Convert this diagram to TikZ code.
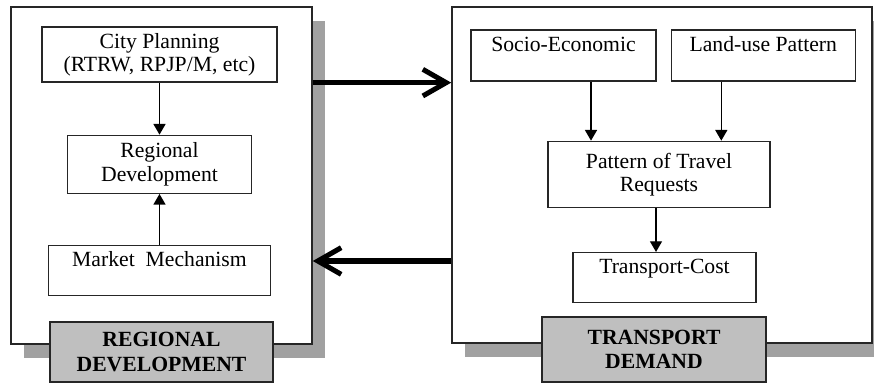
\documentclass[tikz,border=0pt]{standalone}
\usepackage{fontspec}
\setmainfont{Liberation Serif}
\usetikzlibrary{positioning,arrows.meta,shadows}
\tikzset{frame style/.style={
		draw=black!85,
		line width=1.3pt,
		fill=white,
		rectangle,
		inner sep=0pt,
		drop shadow={shadow xshift=0.39cm, shadow yshift=-0.42cm, fill=black!37, opacity=1},
	},
	box style/.style={
		draw=black!85,
		line width=1.1pt,
		fill=white,
		rectangle,
		align=center,
		inner sep=0pt,
		font=\fontsize{18.5}{19.8}\selectfont,
	},
	label style/.style={
		draw=black!85,
		line width=1.3pt,
		fill=black!25,
		rectangle,
		align=center,
		inner sep=0pt,
		font=\bfseries\fontsize{18.5}{20.8}\selectfont,
	},
	arrow style/.style={
		line width=1.2pt,
		>={Triangle[length=0.32cm,width=0.36cm]},
	},
	big arrow style/.style={
		line width=4.3pt,
		>={Straight Barb[length=0.7cm,width=0.8cm]},
	}
}
\begin{document}
\begin{tikzpicture}[x=0.03cm,y=-0.03cm]
	\useasboundingbox (0,0) rectangle (874,383);
	\clip (0,0) rectangle (874,383);
	
	\node[frame style, minimum width=9.03cm, minimum height=10.11cm] (LeftFrame) at (161.5,175.5) {};
	\node[frame style, minimum width=12.6cm, minimum height=10.08cm] (RightFrame) at (662,175) {};
	
	\node[box style, minimum width=7.05cm, minimum height=1.65cm] (CityPlan) at (159.5,54.5) {City Planning\\(RTRW, RPJP/M, etc)};
	
	\node[box style, below=1.56cm of CityPlan, minimum width=5.52cm, minimum height=1.74cm] (RegDev) {Regional\\Development}
	edge [<-, arrow style] (CityPlan);
	
	\node[box style, below=1.53cm of RegDev, minimum width=6.66cm, minimum height=1.5cm] (Market) {Market\ \ Mechanism\\~}
	edge [->, arrow style] (RegDev);
	
	\node[box style, minimum width=5.55cm, minimum height=1.53cm] (Socio) at (563.5,55.5) {Socio-Economic\\~};
	
	\node[box style, right=0.42cm of Socio, minimum width=5.52cm, minimum height=1.53cm] (LandUse) {Land-use Pattern\\~};
	
	\node[box style, below=1.77cm of Socio, xshift=2.865cm, minimum width=6.66cm, minimum height=1.98cm] (Travel) {Pattern of Travel\\Requests};
	
	\node[box style, below=1.32cm of Travel, xshift=0.165cm, minimum width=5.49cm, minimum height=1.5cm] (Cost) {Transport-Cost\\~};
	
	\draw[->, arrow style] ([xshift=0.825cm]Socio.south) -- ([xshift=0.825cm]Socio.south |- Travel.north);
	\draw[->, arrow style] ([xshift=-1.26cm]LandUse.south) -- ([xshift=-1.26cm]LandUse.south |- Travel.north);
	\draw[->, arrow style] ([xshift=-0.09cm]Travel.south) -- ([xshift=-0.09cm]Travel.south |- Cost.north);
	
	\draw[->, big arrow style] (LeftFrame.east |- CityPlan.south) -- (RightFrame.west |- CityPlan.south);
	\draw[->, big arrow style] ([yshift=-2.58cm]RightFrame.west) -- ([yshift=-2.58cm]RightFrame.west -| LeftFrame.east);
	
	\node[label style, minimum width=6.69cm, minimum height=1.8cm] (RegLabel) at (161.5,352) {REGIONAL\\DEVELOPMENT};
	\node[label style, minimum width=6.72cm, minimum height=1.95cm] (TransLabel) at (654,349.5) {TRANSPORT\\DEMAND};
\end{tikzpicture}
\end{document}
